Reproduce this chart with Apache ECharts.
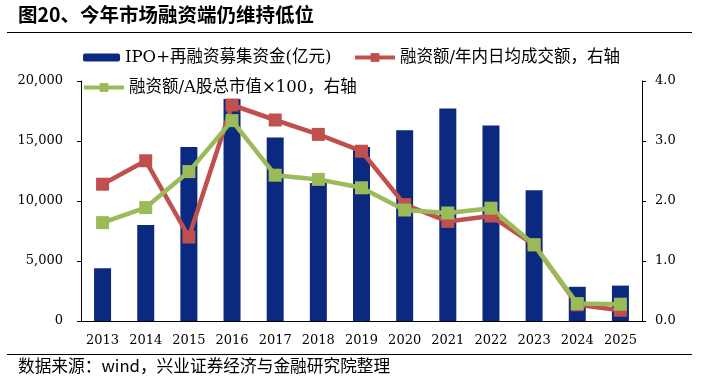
<!DOCTYPE html>
<html><head><meta charset="utf-8">
<script src="https://cdn.jsdelivr.net/npm/echarts@6/dist/echarts.min.js"></script>
<style>html,body{margin:0;padding:0;background:#fff}#c{width:713px;height:391px}</style>
</head><body><div id="c"></div>
<script>
var categories = ['2013','2014','2015','2016','2017','2018','2019','2020','2021','2022','2023','2024','2025'];
var financing = [4400, 8000, 14500, 18500, 15300, 11500, 14500, 15900, 17700, 16300, 10900, 2850, 2950];
var marginToTurnover = [2.28, 2.67, 1.40, 3.60, 3.35, 3.11, 2.83, 1.94, 1.66, 1.75, 1.27, 0.27, 0.18];
var marginToMktCap = [1.64, 1.89, 2.49, 3.34, 2.43, 2.36, 2.22, 1.85, 1.80, 1.88, 1.27, 0.29, 0.28];
var leftTicks = [0, 5000, 10000, 15000, 20000];
var rightTicks = [0, 1, 2, 3, 4];
var names = ['IPO+再融资募集资金(亿元)', '融资额/年内日均成交额，右轴', '融资额/A股总市值×100，右轴'];

var chart = echarts.init(document.getElementById('c'));
var serif = 'DejaVu Serif';
var legFont = {color:'#000', fontSize:16.5, fontFamily:'"DejaVu Serif","Noto Sans CJK SC"', lineHeight:17};
var red = '#C0504D', green = '#9BBB59', navy = '#0B2A7F';
chart.setOption({
  animation:false,
  backgroundColor:'#fff',
  grid:{left:81, right:71, top:81, bottom:70, containLabel:false},
  legend:[
    {data:[names[0]], left:83, top:49, padding:0, itemWidth:37, itemHeight:8, textStyle:legFont},
    {data:[names[1]], left:353, top:49, padding:0, itemWidth:40, itemHeight:11, textStyle:legFont, lineStyle:{width:4}},
    {data:[names[2]], left:82, top:79, padding:0, itemWidth:40, itemHeight:11, textStyle:legFont, lineStyle:{width:4}}
  ],
  xAxis:{type:'category', data:categories, boundaryGap:true,
    axisLine:{lineStyle:{color:'#000', width:1}},
    axisTick:{inside:true, length:5, lineStyle:{color:'#000'}},
    axisLabel:{color:'#000', fontSize:13, fontFamily:serif, margin:13}},
  yAxis:[
    {type:'value', min:leftTicks[0], max:leftTicks[leftTicks.length-1], interval:5000, splitLine:{show:false},
     axisLine:{show:true, lineStyle:{color:'#000'}}, axisTick:{show:true, length:4, lineStyle:{color:'#000'}},
     axisLabel:{color:'#000', fontSize:13, fontFamily:serif, margin:18,
       formatter:function(v){return v.toLocaleString('en-US');}}},
    {type:'value', min:rightTicks[0], max:rightTicks[rightTicks.length-1], interval:1, splitLine:{show:false},
     axisLine:{show:true, lineStyle:{color:'#000'}}, axisTick:{show:true, length:4, lineStyle:{color:'#000'}},
     axisLabel:{color:'#000', fontSize:13, fontFamily:serif, margin:13,
       formatter:function(v){return v.toFixed(1);}}}
  ],
  series:[
    {name:names[0], type:'bar', data:financing, barWidth:17, itemStyle:{color:navy}, yAxisIndex:0},
    {name:names[1], type:'line', data:marginToTurnover, yAxisIndex:1, symbol:'rect', symbolSize:13,
     lineStyle:{color:red, width:4.5}, itemStyle:{color:red}},
    {name:names[2], type:'line', data:marginToMktCap, yAxisIndex:1, symbol:'rect', symbolSize:13,
     lineStyle:{color:green, width:4.5}, itemStyle:{color:green}}
  ],
  graphic:[
    {type:'text', left:18, top:5, style:{text:'图20、今年市场融资端仍维持低位', fill:'#000',
      font:'bold 19.5px "Noto Sans CJK SC"'}},
    {type:'line', shape:{x1:7, y1:32.5, x2:692, y2:32.5}, style:{stroke:'#000', lineWidth:1.2}},
    {type:'line', shape:{x1:7, y1:354.5, x2:692, y2:354.5}, style:{stroke:'#000', lineWidth:1.2}},
    {type:'text', left:18, top:357, style:{text:'数据来源：wind，兴业证券经济与金融研究院整理', fill:'#000',
      font:'16.7px "Noto Sans CJK SC"'}}
  ]
});
</script></body></html>
